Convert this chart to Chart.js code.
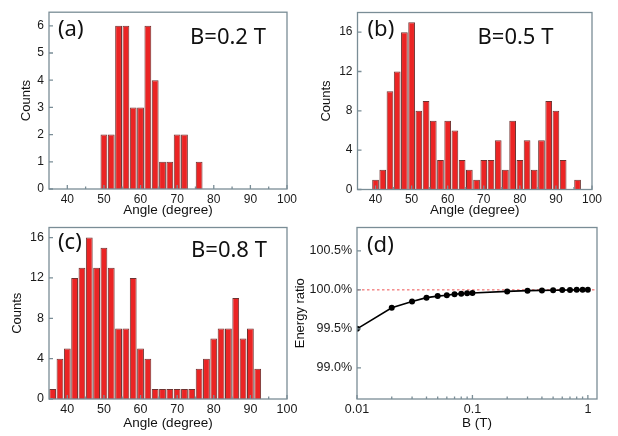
<!DOCTYPE html>
<html><head><meta charset="utf-8">
<script src="https://cdn.jsdelivr.net/npm/chart.js@4.4.1/dist/chart.umd.min.js"></script>
<style>
html,body{margin:0;padding:0;background:#fff;width:618px;height:436px;overflow:hidden;position:relative}
canvas{position:absolute}
</style></head><body>
<canvas id="ca" width="309" height="218" style="left:0;top:0"></canvas>
<canvas id="cb" width="309" height="218" style="left:309px;top:0"></canvas>
<canvas id="cc" width="309" height="221" style="left:0;top:215px"></canvas>
<canvas id="cd" width="338" height="221" style="left:280px;top:215px"></canvas>
<script>
// ---- data ----
const angleTicks = [40, 50, 60, 70, 80, 90, 100];
const angleMinor = [45, 55, 65, 75, 85, 95];

const aAngles = [50, 52, 54, 56, 58, 60, 62, 64, 66, 68, 70, 72, 74, 76];
const aCounts = [2, 2, 6, 6, 3, 3, 6, 4, 1, 1, 2, 2, 0, 1];
const aTicksY = [0, 1, 2, 3, 4, 5, 6];

const bAngles = [40, 42, 44, 46, 48, 50, 52, 54, 56, 58, 60, 62, 64, 66, 68, 70, 72, 74, 76, 78, 80, 82, 84, 86, 88, 90, 92, 94, 96];
const bCounts = [1, 2, 10, 12, 16, 17, 8, 9, 7, 3, 7, 6, 3, 2, 1, 3, 3, 5, 2, 7, 3, 5, 2, 5, 9, 8, 3, 0, 1];
const bTicksY = [0, 4, 8, 12, 16];

const cAngles = [36, 38, 40, 42, 44, 46, 48, 50, 52, 54, 56, 58, 60, 62, 64, 66, 68, 70, 72, 74, 76, 78, 80, 82, 84, 86, 88, 90, 92];
const cCounts = [1, 4, 5, 12, 13, 16, 13, 15, 13, 7, 7, 12, 5, 4, 1, 1, 1, 1, 1, 1, 3, 4, 6, 7, 7, 10, 6, 7, 3];
const cTicksY = [0, 4, 8, 12, 16];

const dField = [0.01, 0.02, 0.03, 0.04, 0.05, 0.06, 0.07, 0.08, 0.09, 0.1, 0.2, 0.3, 0.4, 0.5, 0.6, 0.7, 0.8, 0.9, 1.0];
const dRatio = [99.50, 99.77, 99.85, 99.90, 99.92, 99.93, 99.945, 99.95, 99.955, 99.96, 99.98, 99.99, 99.993, 99.995, 99.997, 99.998, 100.0, 100.0, 100.0];
const dRefX = [0.01, 1.2];
const dRefY = [100.0, 100.0];
const dTicksX = [0.01, 0.1, 1];
const dMinorX = [0.02, 0.03, 0.04, 0.05, 0.06, 0.07, 0.08, 0.09, 0.2, 0.3, 0.4, 0.5, 0.6, 0.7, 0.8, 0.9];
const dTicksY = [99.0, 99.5, 100.0, 100.5];

// ---- styling ----
const FAM = "'Liberation Sans', Arial, sans-serif";
const FRAME = '#7a8d96';
const BAR_FILL = 'rgb(235,36,36)';
const BAR_EDGE = 'rgb(110,50,48)';

const framePlugin = {
  id: 'frame',
  afterDatasetsDraw(chart, args, o) {
    const {ctx, chartArea: a, scales} = chart;
    const x = scales.x, y = scales.y;
    ctx.save();
    ctx.strokeStyle = FRAME;
    ctx.lineWidth = 1.3;
    ctx.strokeRect(a.left, a.top, a.right - a.left, a.bottom - a.top);
    ctx.beginPath();
    x.ticks.forEach(t => { const p = x.getPixelForValue(t.value); ctx.moveTo(p, a.bottom); ctx.lineTo(p, a.bottom - 4); });
    (o.xMinor || []).forEach(v => { const p = x.getPixelForValue(v); ctx.moveTo(p, a.bottom); ctx.lineTo(p, a.bottom - 2.5); });
    y.ticks.forEach(t => { const p = y.getPixelForValue(t.value); ctx.moveTo(a.left, p); ctx.lineTo(a.left + 4, p); });
    ctx.stroke();
    ctx.fillStyle = '#111';
    ctx.textBaseline = 'middle';
    ctx.textAlign = 'left';
    (o.labels || []).forEach(l => {
      ctx.font = l.font;
      ctx.fillText(l.text, a.left + l.dx, a.top + l.dy);
    });
    ctx.restore();
  }
};

const annFont = "22px 'Noto Sans', 'Open Sans', sans-serif";

function histogram(id, xs, ys, yMax, yTicks, cfg) {
  return new Chart(document.getElementById(id), {
    type: 'bar',
    data: {
      datasets: [{
        data: xs.map((x, i) => ({x: x, y: ys[i]})),
        backgroundColor: BAR_FILL,
        borderColor: BAR_EDGE,
        borderWidth: 1,
        barPercentage: 0.93,
        categoryPercentage: 1.0
      }]
    },
    options: {
      responsive: false,
      animation: false,
      layout: {padding: cfg.pad},
      plugins: {
        legend: {display: false},
        tooltip: {enabled: false},
        frame: {labels: cfg.labels, xMinor: angleMinor}
      },
      scales: {
        x: {
          type: 'linear', min: 35, max: 100, offset: false,
          grid: {display: false, drawTicks: false, offset: false},
          border: {display: false},
          afterBuildTicks: s => { s.ticks = angleTicks.map(v => ({value: v})); },
          afterFit: s => { s.height = cfg.xH; },
          ticks: {padding: 3, autoSkip: false, maxRotation: 0, color: '#1a1a1a', font: {family: FAM, size: cfg.tickSize}},
          title: {display: true, text: 'Angle (degree)', color: '#111', font: {family: FAM, size: 13.5}, padding: {top: 0, bottom: cfg.xTitlePad}}
        },
        y: {
          min: 0, max: yMax,
          grid: {display: false, drawTicks: false},
          border: {display: false},
          afterBuildTicks: s => { s.ticks = yTicks.map(v => ({value: v})); },
          afterFit: s => { s.width = cfg.yW; },
          ticks: {padding: 5, color: '#1a1a1a', font: {family: FAM, size: cfg.tickSize}},
          title: {display: true, text: 'Counts', color: '#111', font: {family: FAM, size: 13}, padding: {top: cfg.yTitlePad, bottom: 0}}
        }
      }
    },
    plugins: [framePlugin]
  });
}

histogram('ca', aAngles, aCounts, 6.5, aTicksY, {
  pad: {left: 0, top: 12, right: 22, bottom: 0}, xH: 29, yW: 49, tickSize: 12,
  xTitlePad: 0, yTitlePad: 19,
  labels: [{text: '(a)', dx: 9, dy: 18, font: annFont}, {text: 'B=0.2 T', dx: 141, dy: 26, font: annFont}]
});
histogram('cb', bAngles, bCounts, 18, bTicksY, {
  pad: {left: 0, top: 12.5, right: 26, bottom: 0}, xH: 28.5, yW: 48.5, tickSize: 12,
  xTitlePad: 0, yTitlePad: 10,
  labels: [{text: '(b)', dx: 10, dy: 17, font: annFont}, {text: 'B=0.5 T', dx: 120, dy: 25, font: annFont}]
});
histogram('cc', cAngles, cCounts, 17, cTicksY, {
  pad: {left: 0, top: 8.5, right: 22, bottom: 0}, xH: 37, yW: 49, tickSize: 12.5,
  xTitlePad: 4.5, yTitlePad: 10,
  labels: [{text: '(c)', dx: 9, dy: 15, font: annFont}, {text: 'B=0.8 T', dx: 142, dy: 23, font: annFont}]
});

new Chart(document.getElementById('cd'), {
  type: 'line',
  data: {
    datasets: [
      {
        data: dField.map((x, i) => ({x: x, y: dRatio[i]})),
        borderColor: '#000', backgroundColor: '#000', borderWidth: 1.6,
        pointRadius: 3, pointBorderWidth: 0, tension: 0
      },
      {
        data: dRefX.map((x, i) => ({x: x, y: dRefY[i]})),
        borderColor: 'rgb(238,80,80)', borderWidth: 1, borderDash: [2.5, 2.5],
        pointRadius: 0
      }
    ]
  },
  options: {
    responsive: false,
    animation: false,
    layout: {padding: {left: 0, top: 8, right: 21, bottom: 0}},
    plugins: {
      legend: {display: false},
      tooltip: {enabled: false},
      frame: {labels: [{text: '(d)', dx: 10, dy: 18, font: annFont}], xMinor: dMinorX}
    },
    scales: {
      x: {
        type: 'logarithmic', min: 0.01, max: 1.2,
        grid: {display: false, drawTicks: false},
        border: {display: false},
        afterBuildTicks: s => { s.ticks = dTicksX.map(v => ({value: v})); },
        afterFit: s => { s.height = 37; },
        ticks: {padding: 3, autoSkip: false, maxRotation: 0, color: '#1a1a1a', font: {family: FAM, size: 12.5},
                callback: v => String(v)},
        title: {display: true, text: 'B (T)', color: '#111', font: {family: FAM, size: 13.5}, padding: {top: 0, bottom: 4.5}}
      },
      y: {
        min: 98.6, max: 100.8,
        grid: {display: false, drawTicks: false},
        border: {display: false},
        afterBuildTicks: s => { s.ticks = dTicksY.map(v => ({value: v})); },
        afterFit: s => { s.width = 77; },
        ticks: {padding: 5, color: '#1a1a1a', font: {family: FAM, size: 12.5}, callback: v => Number(v).toFixed(1) + '%'},
        title: {display: true, text: 'Energy ratio', color: '#111', font: {family: FAM, size: 13}, padding: {top: 13, bottom: 0}}
      }
    }
  },
  plugins: [framePlugin]
});
</script>
</body></html>
